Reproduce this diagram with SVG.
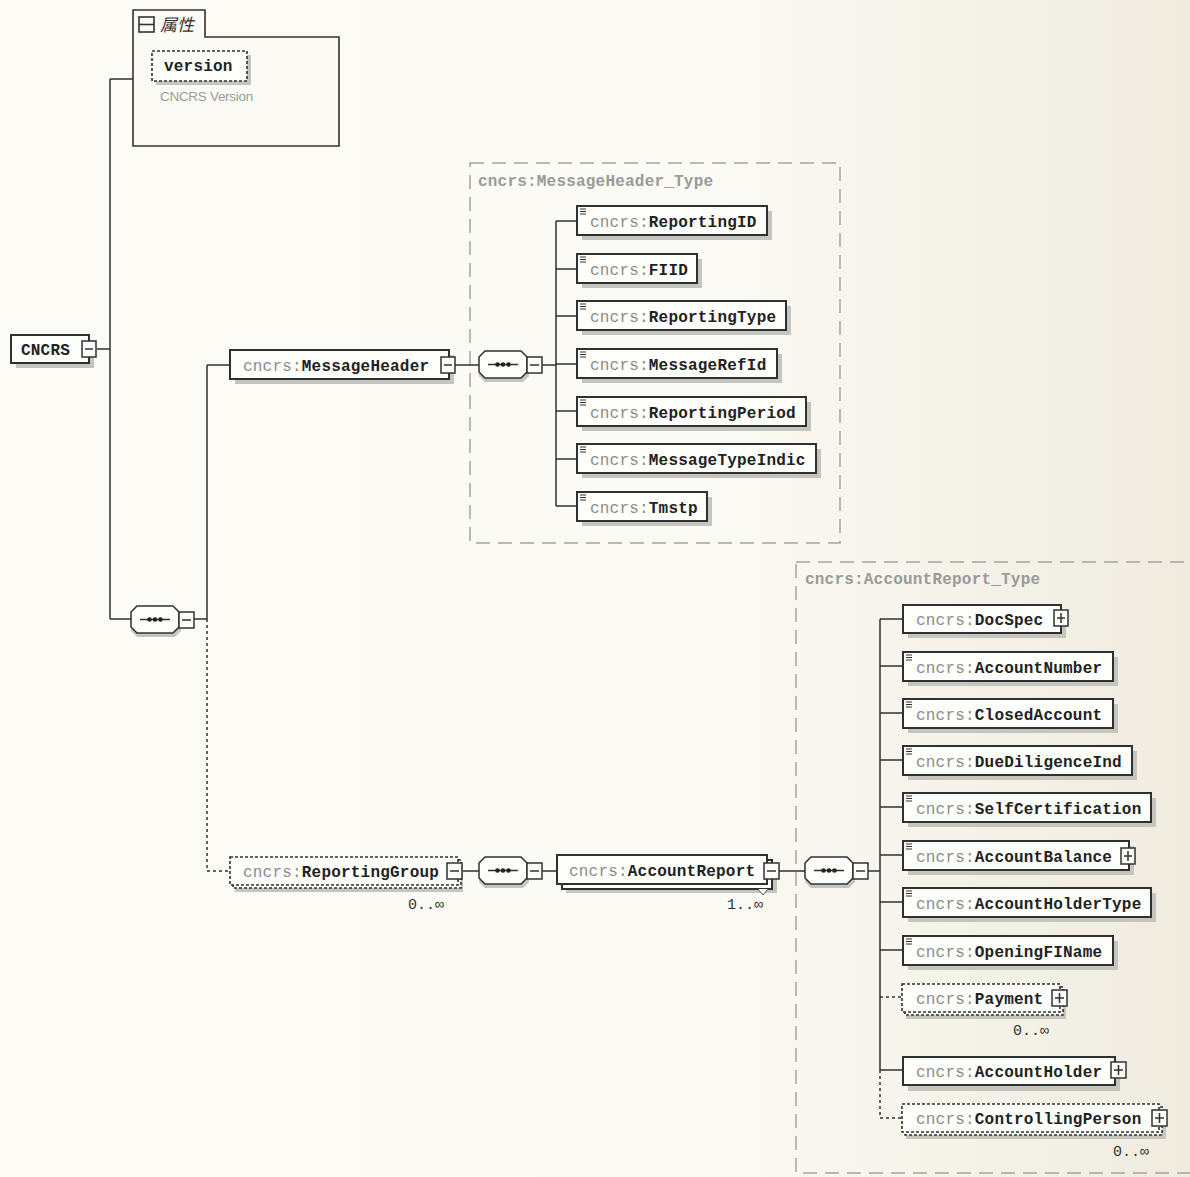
<svg xmlns="http://www.w3.org/2000/svg" width="1190" height="1177" viewBox="0 0 1190 1177">
<defs>
<linearGradient id="bg" x1="0" y1="0" x2="1190" y2="0" gradientUnits="userSpaceOnUse">
<stop offset="0" stop-color="#fcfbf6"/><stop offset="0.6" stop-color="#fbfaf4"/><stop offset="1" stop-color="#efebdf"/>
</linearGradient>
</defs>
<style>
.box{fill:#fdfdf9;stroke:#2c3232;stroke-width:2}
.obox{fill:#fdfdf9;stroke:#2c3232;stroke-width:1.6;stroke-dasharray:3 2}
.sh{fill:#c6c4bc}
.ic{stroke:#333;stroke-width:1;fill:none}
.t{font-family:"Liberation Mono","DejaVu Sans Mono",monospace;font-size:16px;letter-spacing:0.2px}
.p{fill:#8c8c8c}
.b{fill:#222;font-weight:bold}
.lbl{font-family:"Liberation Mono","DejaVu Sans Mono",monospace;font-size:16px;letter-spacing:0.2px;fill:#9a9a9a;font-weight:bold}
.m{font-family:"Liberation Mono","DejaVu Sans Mono",monospace;font-size:15px;fill:#333}
.ln{stroke:#2c3232;stroke-width:1.5;fill:none}
.dl{stroke:#2c3232;stroke-width:1.5;fill:none;stroke-dasharray:3 3}
.sq{fill:#fdfdf9;stroke:#2c3232;stroke-width:1.5}
.oct{fill:#fdfdf9;stroke:#2c3232;stroke-width:1.5}
.tb{fill:none;stroke:#a6a49c;stroke-width:1.5;stroke-dasharray:14 8}
</style>
<rect x="0" y="0" width="1190" height="1177" fill="url(#bg)"/>

<!-- type containers -->
<g id="type-messageheader">
<rect class="tb" x="470" y="163" width="370" height="380" fill="#faf9f3"/>
<text class="lbl" x="478" y="186">cncrs:MessageHeader_Type</text>
</g>
<g id="type-accountreport">
<rect class="tb" x="796" y="562" width="420" height="611" fill="#f3f0e6"/>
<text class="lbl" x="805" y="584">cncrs:AccountReport_Type</text>
</g>

<!-- connectors -->
<g id="connectors">
<path class="ln" d="M97 349H110M110 79V619M110 79H133M110 619H131M194 619H207M207 365V619M207 365H230"/>
<path class="dl" d="M207 619V871H230"/>
<path class="ln" d="M455 365H479M542 365H556M556 221V506M556 221H577M556 269H577M556 316H577M556 364H577M556 411H577M556 459H577M556 506H577"/>
<path class="ln" d="M462 871H479M542 871H557M779 871H805M868 871H880"/>
<path class="ln" d="M880 619V1070M880 619H903M880 666H903M880 713H903M880 760H903M880 807H903M880 855H903M880 902H903M880 950H903M880 1070H903"/>
<path class="dl" d="M880 997H903M880 1070V1118H903"/>
</g>

<!-- attributes -->
<g id="attributes">
<path d="M133 146V10H205V37H339V146Z" fill="#fbfaf4" stroke="#333" stroke-width="1.6"/>
<rect x="139" y="17" width="15" height="15" fill="none" stroke="#333" stroke-width="1.6"/>
<line x1="139" y1="24.5" x2="154" y2="24.5" stroke="#333" stroke-width="1.6"/>
<text x="160" y="31" font-family="'Noto Sans CJK SC',sans-serif" font-size="17" font-style="italic" fill="#333">属性</text>
<rect class="sh" x="156" y="55" width="95" height="30"/>
<rect class="obox" x="152" y="51" width="95" height="30"/>
<text class="t b" x="164" y="71">version</text>
<text x="160" y="101" font-family="'Liberation Sans',sans-serif" font-size="13.5" fill="#9a9a9a" letter-spacing="-0.3">CNCRS Version</text>
</g>

<!-- root -->
<g id="n-cncrs">
<rect class="sh" x="16" y="340" width="78" height="28"/>
<rect class="box" x="11" y="335" width="78" height="28"/>
<text class="t b" x="21" y="355" letter-spacing="0.8">CNCRS</text>
<rect class="sq" x="82" y="341" width="14" height="16"/>
<line class="ln" x1="85" y1="349" x2="93" y2="349"/>
</g>

<!-- sequence nodes -->
<g id="seq1" transform="translate(131,606)">
<path d="M6 4H44L50 10V25L44 31H6L0 25V10Z" class="sh"/>
<path d="M6 0H42L48 6V21L42 27H6L0 21V6Z" class="oct"/>
<line class="ln" x1="9" y1="13.5" x2="39" y2="13.5"/>
<circle cx="18.5" cy="13.5" r="2.3" fill="#222"/><circle cx="24" cy="13.5" r="2.3" fill="#222"/><circle cx="29.5" cy="13.5" r="2.3" fill="#222"/>
<rect class="sq" x="48" y="6" width="15" height="16"/>
<line class="ln" x1="51" y1="14" x2="60" y2="14"/>
</g>
<g id="seq2" transform="translate(479,351)">
<path d="M6 4H44L50 10V25L44 31H6L0 25V10Z" class="sh"/>
<path d="M6 0H42L48 6V21L42 27H6L0 21V6Z" class="oct"/>
<line class="ln" x1="9" y1="13.5" x2="39" y2="13.5"/>
<circle cx="18.5" cy="13.5" r="2.3" fill="#222"/><circle cx="24" cy="13.5" r="2.3" fill="#222"/><circle cx="29.5" cy="13.5" r="2.3" fill="#222"/>
<rect class="sq" x="48" y="6" width="15" height="16"/>
<line class="ln" x1="51" y1="14" x2="60" y2="14"/>
</g>
<g id="seq3" transform="translate(479,857)">
<path d="M6 4H44L50 10V25L44 31H6L0 25V10Z" class="sh"/>
<path d="M6 0H42L48 6V21L42 27H6L0 21V6Z" class="oct"/>
<line class="ln" x1="9" y1="13.5" x2="39" y2="13.5"/>
<circle cx="18.5" cy="13.5" r="2.3" fill="#222"/><circle cx="24" cy="13.5" r="2.3" fill="#222"/><circle cx="29.5" cy="13.5" r="2.3" fill="#222"/>
<rect class="sq" x="48" y="6" width="15" height="16"/>
<line class="ln" x1="51" y1="14" x2="60" y2="14"/>
</g>
<g id="seq4" transform="translate(805,857)">
<path d="M6 4H44L50 10V25L44 31H6L0 25V10Z" class="sh"/>
<path d="M6 0H42L48 6V21L42 27H6L0 21V6Z" class="oct"/>
<line class="ln" x1="9" y1="13.5" x2="39" y2="13.5"/>
<circle cx="18.5" cy="13.5" r="2.3" fill="#222"/><circle cx="24" cy="13.5" r="2.3" fill="#222"/><circle cx="29.5" cy="13.5" r="2.3" fill="#222"/>
<rect class="sq" x="48" y="6" width="15" height="16"/>
<line class="ln" x1="51" y1="14" x2="60" y2="14"/>
</g>

<!-- MessageHeader -->
<g id="n-messageheader">
<rect class="sh" x="235" y="355" width="219" height="29"/>
<rect class="box" x="230" y="350" width="219" height="29"/>
<text class="t" x="243" y="371"><tspan class="p">cncrs:</tspan><tspan class="b">MessageHeader</tspan></text>
<rect class="sq" x="441" y="357" width="14" height="16"/>
<line class="ln" x1="444" y1="365" x2="452" y2="365"/>
</g>

<!-- MessageHeader children -->
<g id="n-reportingid">
<rect class="sh" x="582" y="211" width="190" height="29"/>
<rect class="box" x="577" y="206" width="190" height="29"/>
<path class="ic" d="M580 209h6M580 211.5h6M580 214h6"/>
<text class="t" x="590" y="227"><tspan class="p">cncrs:</tspan><tspan class="b">ReportingID</tspan></text>
</g>
<g id="n-fiid">
<rect class="sh" x="582" y="259" width="120" height="29"/>
<rect class="box" x="577" y="254" width="120" height="29"/>
<path class="ic" d="M580 257h6M580 259.5h6M580 262h6"/>
<text class="t" x="590" y="275"><tspan class="p">cncrs:</tspan><tspan class="b">FIID</tspan></text>
</g>
<g id="n-reportingtype">
<rect class="sh" x="582" y="306" width="209" height="29"/>
<rect class="box" x="577" y="301" width="209" height="29"/>
<path class="ic" d="M580 304h6M580 306.5h6M580 309h6"/>
<text class="t" x="590" y="322"><tspan class="p">cncrs:</tspan><tspan class="b">ReportingType</tspan></text>
</g>
<g id="n-messagerefid">
<rect class="sh" x="582" y="354" width="200" height="29"/>
<rect class="box" x="577" y="349" width="200" height="29"/>
<path class="ic" d="M580 352h6M580 354.5h6M580 357h6"/>
<text class="t" x="590" y="370"><tspan class="p">cncrs:</tspan><tspan class="b">MessageRefId</tspan></text>
</g>
<g id="n-reportingperiod">
<rect class="sh" x="582" y="402" width="229" height="29"/>
<rect class="box" x="577" y="397" width="229" height="29"/>
<path class="ic" d="M580 400h6M580 402.5h6M580 405h6"/>
<text class="t" x="590" y="418"><tspan class="p">cncrs:</tspan><tspan class="b">ReportingPeriod</tspan></text>
</g>
<g id="n-messagetypeindic">
<rect class="sh" x="582" y="449" width="239" height="29"/>
<rect class="box" x="577" y="444" width="239" height="29"/>
<path class="ic" d="M580 447h6M580 449.5h6M580 452h6"/>
<text class="t" x="590" y="465"><tspan class="p">cncrs:</tspan><tspan class="b">MessageTypeIndic</tspan></text>
</g>
<g id="n-tmstp">
<rect class="sh" x="582" y="497" width="130" height="29"/>
<rect class="box" x="577" y="492" width="130" height="29"/>
<path class="ic" d="M580 495h6M580 497.5h6M580 500h6"/>
<text class="t" x="590" y="513"><tspan class="p">cncrs:</tspan><tspan class="b">Tmstp</tspan></text>
</g>

<!-- ReportingGroup -->
<g id="n-reportinggroup">
<rect class="sh" x="235" y="864" width="228" height="28"/>
<rect class="obox" x="233" y="860" width="228" height="28"/>
<rect class="obox" x="230" y="857" width="228" height="28"/>
<text class="t" x="243" y="877"><tspan class="p">cncrs:</tspan><tspan class="b">ReportingGroup</tspan></text>
<rect class="sq" x="447" y="863" width="15" height="16"/>
<line class="ln" x1="450" y1="871" x2="459" y2="871"/>
<text class="m" x="408" y="909">0..∞</text>
</g>

<!-- AccountReport -->
<g id="n-accountreport">
<rect class="sh" x="566" y="864" width="211" height="29"/>
<rect class="box" x="562" y="860" width="210" height="29"/>
<rect class="box" x="557" y="855" width="210" height="29"/>
<text class="t" x="569" y="876"><tspan class="p">cncrs:</tspan><tspan class="b">AccountReport</tspan></text>
<rect class="sq" x="764" y="863" width="15" height="16"/>
<line class="ln" x1="767" y1="871" x2="776" y2="871"/>
<path d="M758 889L763 895L768 889" fill="#fdfdf9" stroke="#555" stroke-width="1"/>
<text class="m" x="727" y="909">1..∞</text>
</g>

<!-- AccountReport children -->
<g id="n-docspec">
<rect class="sh" x="908" y="610" width="158" height="28"/>
<rect class="box" x="903" y="605" width="158" height="28"/>
<text class="t" x="916" y="625"><tspan class="p">cncrs:</tspan><tspan class="b">DocSpec</tspan></text>
<rect class="sq" x="1054" y="610" width="14" height="16"/>
<path class="ln" d="M1057 618H1065M1061 613V623"/>
</g>
<g id="n-accountnumber">
<rect class="sh" x="908" y="657" width="210" height="29"/>
<rect class="box" x="903" y="652" width="210" height="29"/>
<path class="ic" d="M906 655h6M906 657.5h6M906 660h6"/>
<text class="t" x="916" y="673"><tspan class="p">cncrs:</tspan><tspan class="b">AccountNumber</tspan></text>
</g>
<g id="n-closedaccount">
<rect class="sh" x="908" y="704" width="210" height="29"/>
<rect class="box" x="903" y="699" width="210" height="29"/>
<path class="ic" d="M906 702h6M906 704.5h6M906 707h6"/>
<text class="t" x="916" y="720"><tspan class="p">cncrs:</tspan><tspan class="b">ClosedAccount</tspan></text>
</g>
<g id="n-duediligenceind">
<rect class="sh" x="908" y="751" width="229" height="29"/>
<rect class="box" x="903" y="746" width="229" height="29"/>
<path class="ic" d="M906 749h6M906 751.5h6M906 754h6"/>
<text class="t" x="916" y="767"><tspan class="p">cncrs:</tspan><tspan class="b">DueDiligenceInd</tspan></text>
</g>
<g id="n-selfcertification">
<rect class="sh" x="908" y="798" width="248" height="29"/>
<rect class="box" x="903" y="793" width="248" height="29"/>
<path class="ic" d="M906 796h6M906 798.5h6M906 801h6"/>
<text class="t" x="916" y="814"><tspan class="p">cncrs:</tspan><tspan class="b">SelfCertification</tspan></text>
</g>
<g id="n-accountbalance">
<rect class="sh" x="908" y="846" width="226" height="29"/>
<rect class="box" x="903" y="841" width="226" height="29"/>
<path class="ic" d="M906 844h6M906 846.5h6M906 849h6"/>
<text class="t" x="916" y="862"><tspan class="p">cncrs:</tspan><tspan class="b">AccountBalance</tspan></text>
<rect class="sq" x="1121" y="848" width="14" height="16"/>
<path class="ln" d="M1124 856H1132M1128 851V861"/>
</g>
<g id="n-accountholdertype">
<rect class="sh" x="908" y="893" width="248" height="29"/>
<rect class="box" x="903" y="888" width="248" height="29"/>
<path class="ic" d="M906 891h6M906 893.5h6M906 896h6"/>
<text class="t" x="916" y="909"><tspan class="p">cncrs:</tspan><tspan class="b">AccountHolderType</tspan></text>
</g>
<g id="n-openingfiname">
<rect class="sh" x="908" y="941" width="210" height="29"/>
<rect class="box" x="903" y="936" width="210" height="29"/>
<path class="ic" d="M906 939h6M906 941.5h6M906 944h6"/>
<text class="t" x="916" y="957"><tspan class="p">cncrs:</tspan><tspan class="b">OpeningFIName</tspan></text>
</g>
<g id="n-payment">
<rect class="sh" x="906" y="990" width="160" height="29"/>
<rect class="obox" x="905" y="987" width="158" height="28"/>
<rect class="obox" x="902" y="984" width="158" height="28"/>
<text class="t" x="916" y="1004"><tspan class="p">cncrs:</tspan><tspan class="b">Payment</tspan></text>
<rect class="sq" x="1052" y="990" width="15" height="16"/>
<path class="ln" d="M1055 998H1064M1059.5 993V1003"/>
<text class="m" x="1013" y="1035">0..∞</text>
</g>
<g id="n-accountholder">
<rect class="sh" x="908" y="1062" width="212" height="29"/>
<rect class="box" x="903" y="1057" width="212" height="28"/>
<text class="t" x="916" y="1077"><tspan class="p">cncrs:</tspan><tspan class="b">AccountHolder</tspan></text>
<rect class="sq" x="1111" y="1062" width="15" height="16"/>
<path class="ln" d="M1114 1070H1123M1118.5 1065V1075"/>
</g>
<g id="n-controllingperson">
<rect class="sh" x="906" y="1110" width="260" height="29"/>
<rect class="obox" x="905" y="1107" width="257" height="28"/>
<rect class="obox" x="902" y="1104" width="257" height="28"/>
<text class="t" x="916" y="1124"><tspan class="p">cncrs:</tspan><tspan class="b">ControllingPerson</tspan></text>
<rect class="sq" x="1152" y="1110" width="15" height="16"/>
<path class="ln" d="M1155 1118H1164M1159.5 1113V1123"/>
<text class="m" x="1113" y="1156">0..∞</text>
</g>
</svg>
